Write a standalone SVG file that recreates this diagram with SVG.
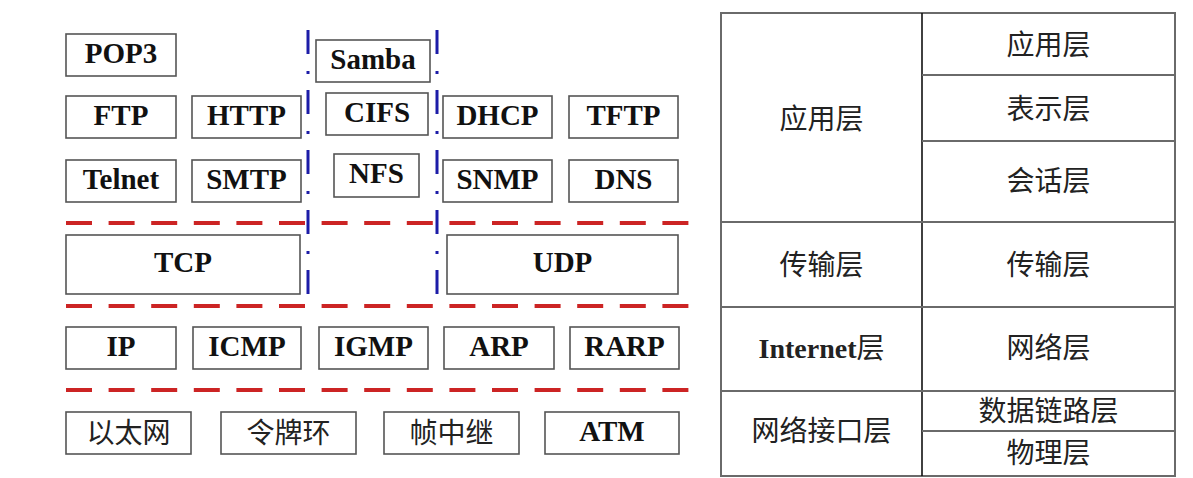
<svg xmlns="http://www.w3.org/2000/svg" width="1193" height="478" viewBox="0 0 1193 478">
<style>
.box{fill:#fff;stroke:#555;stroke-width:1.6}
.lt{font-family:"Liberation Serif","Times New Roman",serif;font-weight:bold;font-size:29px;fill:#111;text-anchor:middle}
.cj{font-family:"Noto Sans CJK SC","Noto Sans CJK JP",sans-serif;font-size:28px;fill:#222;text-anchor:middle}
.red{stroke:#cc2424;stroke-width:4;stroke-dasharray:26 16.6;fill:none}
.blue{stroke:#1c1ca8;stroke-width:3;stroke-dasharray:24 17 3 16;fill:none}
.tb{stroke:#6a6a6a;stroke-width:2;fill:none}
</style>
<rect x="0" y="0" width="1193" height="478" fill="#fff"/>
<g id="separators">
<line class="red" x1="66" y1="223" x2="690" y2="223"/>
<line class="red" x1="66" y1="306" x2="690" y2="306"/>
<line class="red" x1="66" y1="390" x2="690" y2="390"/>
<line class="blue" x1="308" y1="30" x2="308" y2="298"/>
<line class="blue" x1="437" y1="30" x2="437" y2="298"/>
</g>
<g id="POP3"><rect class="box" x="66" y="34" width="110" height="42"/><text class="lt" x="121" y="62.5">POP3</text></g>
<g id="Samba"><rect class="box" x="316" y="40" width="114" height="42"/><text class="lt" x="373" y="68.5">Samba</text></g>
<g id="FTP"><rect class="box" x="66" y="96" width="110" height="42"/><text class="lt" x="121" y="124.5">FTP</text></g>
<g id="HTTP"><rect class="box" x="192" y="96" width="109" height="42"/><text class="lt" x="246.5" y="124.5">HTTP</text></g>
<g id="CIFS"><rect class="box" x="326" y="93" width="102" height="42"/><text class="lt" x="377" y="121.5">CIFS</text></g>
<g id="DHCP"><rect class="box" x="443" y="96" width="109" height="42"/><text class="lt" x="497.5" y="124.5">DHCP</text></g>
<g id="TFTP"><rect class="box" x="569" y="96" width="109" height="42"/><text class="lt" x="623.5" y="124.5">TFTP</text></g>
<g id="Telnet"><rect class="box" x="66" y="160" width="110" height="42"/><text class="lt" x="121" y="188.5">Telnet</text></g>
<g id="SMTP"><rect class="box" x="192" y="160" width="109" height="42"/><text class="lt" x="246.5" y="188.5">SMTP</text></g>
<g id="NFS"><rect class="box" x="334" y="154" width="85" height="43"/><text class="lt" x="376.5" y="183">NFS</text></g>
<g id="SNMP"><rect class="box" x="443" y="160" width="109" height="42"/><text class="lt" x="497.5" y="188.5">SNMP</text></g>
<g id="DNS"><rect class="box" x="569" y="160" width="109" height="42"/><text class="lt" x="623.5" y="188.5">DNS</text></g>
<g id="TCP"><rect class="box" x="66" y="235" width="234" height="59"/><text class="lt" x="183" y="272">TCP</text></g>
<g id="UDP"><rect class="box" x="447" y="235" width="231" height="59"/><text class="lt" x="562.5" y="272">UDP</text></g>
<g id="IP"><rect class="box" x="66" y="327" width="110" height="42"/><text class="lt" x="121" y="355.5">IP</text></g>
<g id="ICMP"><rect class="box" x="193" y="327" width="108" height="42"/><text class="lt" x="247" y="355.5">ICMP</text></g>
<g id="IGMP"><rect class="box" x="319" y="327" width="109" height="42"/><text class="lt" x="373.5" y="355.5">IGMP</text></g>
<g id="ARP"><rect class="box" x="444" y="327" width="110" height="42"/><text class="lt" x="499" y="355.5">ARP</text></g>
<g id="RARP"><rect class="box" x="570" y="327" width="109" height="42"/><text class="lt" x="624.5" y="355.5">RARP</text></g>
<g id="Ethernet"><rect class="box" x="66" y="412" width="125" height="42"/><text class="cj" x="128.5" y="443">以太网</text></g>
<g id="TokenRing"><rect class="box" x="221" y="412" width="135" height="42"/><text class="cj" x="288.5" y="443">令牌环</text></g>
<g id="FrameRelay"><rect class="box" x="384" y="412" width="135" height="42"/><text class="cj" x="451.5" y="443">帧中继</text></g>
<g id="ATM"><rect class="box" x="545" y="412" width="134" height="42"/><text class="lt" x="612" y="440.5">ATM</text></g>
<g id="table">
<rect class="tb" x="721" y="13" width="454" height="463"/>
<line x1="922" y1="13" x2="922" y2="476" stroke="#111" stroke-width="1.6"/>
<line class="tb" x1="721" y1="222" x2="1175" y2="222"/>
<line class="tb" x1="721" y1="307" x2="1175" y2="307"/>
<line class="tb" x1="721" y1="391" x2="1175" y2="391"/>
<line class="tb" x1="922" y1="75" x2="1175" y2="75"/>
<line class="tb" x1="922" y1="141" x2="1175" y2="141"/>
<line class="tb" x1="922" y1="431" x2="1175" y2="431"/>
</g>
<g id="tcpip-app"><text class="cj" x="821.5" y="128.5">应用层</text></g>
<g id="tcpip-transport"><text class="cj" x="821.5" y="274.5">传输层</text></g>
<g id="tcpip-internet"><text class="cj" x="821.5" y="357.5"><tspan font-family="Liberation Serif, serif" font-weight="bold">Internet</tspan>层</text></g>
<g id="tcpip-netif"><text class="cj" x="821.5" y="440.5">网络接口层</text></g>
<g id="osi-app"><text class="cj" x="1048.5" y="54.5">应用层</text></g>
<g id="osi-pres"><text class="cj" x="1048.5" y="118.5">表示层</text></g>
<g id="osi-sess"><text class="cj" x="1048.5" y="190.5">会话层</text></g>
<g id="osi-transport"><text class="cj" x="1048.5" y="274.5">传输层</text></g>
<g id="osi-network"><text class="cj" x="1048.5" y="357.5">网络层</text></g>
<g id="osi-datalink"><text class="cj" x="1048.5" y="420.5">数据链路层</text></g>
<g id="osi-physical"><text class="cj" x="1048.5" y="462.5">物理层</text></g>
</svg>
